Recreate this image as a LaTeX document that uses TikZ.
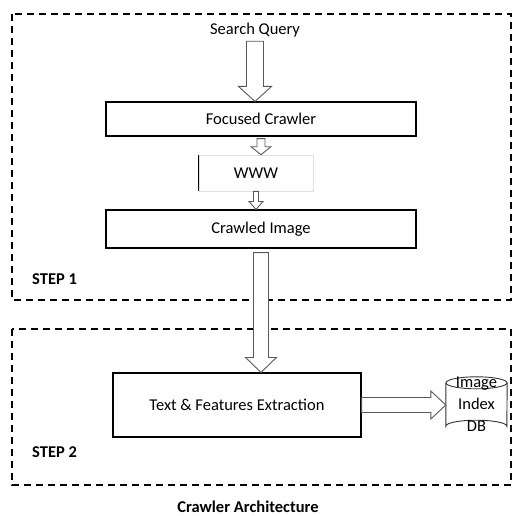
\documentclass[tikz,border=0pt]{standalone}
\usepackage{fontspec}
\setmainfont{Carlito}
\usetikzlibrary{calc}

\tikzset{
  basefont/.style={font=\fontsize{16.5}{22}\selectfont},
  procbox/.style={draw, line width=1.1pt, inner sep=0pt, basefont},
  stepframe/.style={line width=1.4pt, dash pattern=on 7pt off 5pt},
  steplabel/.style={anchor=west, inner sep=0pt, basefont, font=\fontsize{16.5}{22}\selectfont\bfseries},
  blockarrow/.style={draw=black!65, line width=0.9pt, fill=white, line join=miter},
  dbline/.style={draw=black!80, line width=0.9pt}
}

% hollow block arrows: from, to, shaft half width, head half width, head length
\newcommand{\downblock}[5]{%
  \draw[blockarrow] ($(#1)+(-#3,0)$) -- ($(#1 |- #2)+(-#3,-#5)$) -- ($(#1 |- #2)+(-#4,-#5)$)
    -- (#1 |- #2) -- ($(#1 |- #2)+(#4,-#5)$) -- ($(#1 |- #2)+(#3,-#5)$) -- ($(#1)+(#3,0)$) -- cycle;}
\newcommand{\rightblock}[5]{%
  \draw[blockarrow] ($(#1)+(0,-#3)$) -- ($(#1 -| #2)+(-#5,-#3)$) -- ($(#1 -| #2)+(-#5,-#4)$)
    -- (#1 -| #2) -- ($(#1 -| #2)+(-#5,#4)$) -- ($(#1 -| #2)+(-#5,#3)$) -- ($(#1)+(0,#3)$) -- cycle;}

\begin{document}
\begin{tikzpicture}[x=1pt, y=-1pt]
\useasboundingbox (0,0) rectangle (513,516);

% step frames
\draw[stepframe] (12,14) rectangle (511,300);
\draw[stepframe] (12,329) rectangle (511,485);
\node[steplabel] (step1) at (32,279) {STEP 1};
\node[steplabel] (step2) at (32,452) {STEP 2};

% step 1
\node[basefont, inner sep=0pt] (sq) at (255,30) {Search Query};
\node[procbox, minimum width=310, minimum height=34] (fc) at (261,119) {Focused Crawler};
\node[draw=black!12, line width=0.6pt, basefont, minimum width=114, minimum height=36, inner sep=0pt] (www) at (256,173) {WWW};
\draw[line width=0.9pt] (www.north west) -- (www.south west);
\node[procbox, minimum width=310, minimum height=38] (ci) at (261,229) {Crawled Image};

% step 2
\node[procbox, minimum width=248, minimum height=64] (tfe) at (237,405) {Text \& Features Extraction};
\node[minimum width=61, minimum height=55, inner sep=0pt] (db) at (476.5,404.5) {};
\draw[dbline] ($(db.north west)+(0,6)$) -- ($(db.south west)+(0,-6)$)
  arc[start angle=180, end angle=360, x radius=30.5, y radius=6] -- ($(db.north east)+(0,6)$);
\draw[dbline] ($(db.north)+(0,6)$) ellipse[x radius=30.5, y radius=6];
\node[basefont, align=center, inner sep=0pt] (dbtext) at (db.center) {Image\\Index\\DB};

\node[basefont, font=\fontsize{16.5}{22}\selectfont\bfseries] (caption) at (248,507) {Crawler Architecture};

% arrows
\coordinate (sqout) at ($(sq.south)+(0,4)$);
\coordinate (fcout) at ($(fc.south)+(0,2)$);
\coordinate (ciout) at ($(ci.south)+(0,4)$);
\downblock{sqout}{fc.north}{8.5}{16.5}{15}
\downblock{fcout}{www.north}{4}{10}{8}
\downblock{www.south}{ci.north}{2.5}{7}{8}
\downblock{ciout}{tfe.north}{7.5}{15.5}{15}
\rightblock{tfe.east}{db.west}{7.5}{14}{15}
\end{tikzpicture}
\end{document}
